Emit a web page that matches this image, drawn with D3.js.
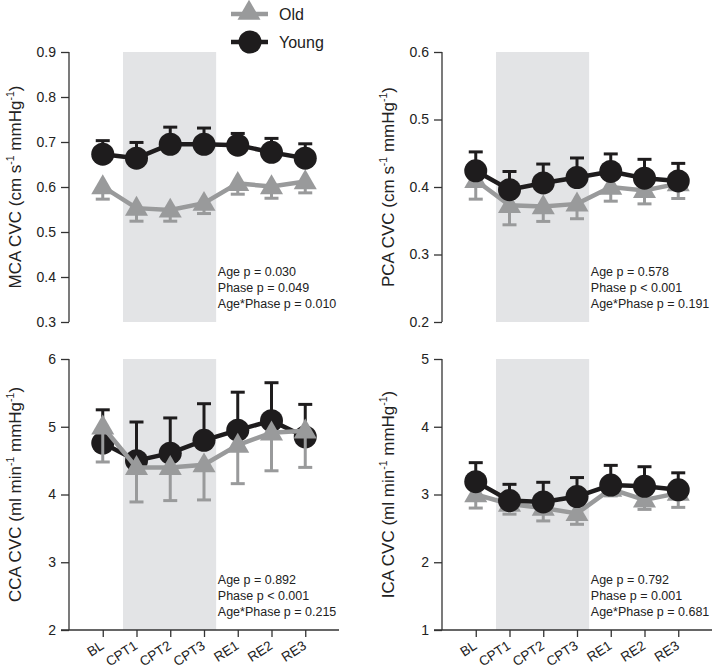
<!doctype html>
<html lang="en">
<head>
  <meta charset="UTF-8">
  <title>CVC</title>
  <script src="https://cdn.jsdelivr.net/npm/d3@7/dist/d3.min.js"></script>
  <style>
    body { margin: 0; background: #fff; }
    text { font-family: "Liberation Sans", Arial, sans-serif; fill: #222; }
  </style>
</head>
<body>
  <script>

    var phases = ["BL", "CPT1", "CPT2", "CPT3", "RE1", "RE2", "RE3"];

    // MCA
    var mcaYoung    = [0.673, 0.664, 0.695, 0.695, 0.693, 0.677, 0.664];
    var mcaYoungErr = [0.703, 0.699, 0.733, 0.731, 0.719, 0.708, 0.696];
    var mcaOld      = [0.601, 0.553, 0.549, 0.564, 0.608, 0.601, 0.612];
    var mcaOldErr   = [0.573, 0.524, 0.524, 0.541, 0.584, 0.575, 0.587];

    // PCA
    var pcaYoung    = [0.424, 0.396, 0.406, 0.414, 0.423, 0.413, 0.409];
    var pcaYoungErr = [0.452, 0.423, 0.434, 0.443, 0.449, 0.441, 0.435];
    var pcaOld      = [0.410, 0.373, 0.371, 0.375, 0.400, 0.395, 0.405];
    var pcaOldErr   = [0.382, 0.344, 0.349, 0.353, 0.379, 0.375, 0.383];

    // CCA
    var ccaYoung    = [4.76, 4.50, 4.61, 4.80, 4.95, 5.09, 4.85];
    var ccaYoungErr = [5.25, 5.07, 5.13, 5.34, 5.51, 5.65, 5.33];
    var ccaOld      = [5.00, 4.40, 4.40, 4.44, 4.73, 4.91, 4.94];
    var ccaOldErr   = [4.48, 3.89, 3.91, 3.92, 4.16, 4.35, 4.40];

    // ICA
    var icaYoung    = [3.19, 2.91, 2.89, 2.97, 3.14, 3.12, 3.07];
    var icaYoungErr = [3.47, 3.15, 3.18, 3.25, 3.43, 3.41, 3.32];
    var icaOld      = [3.00, 2.86, 2.80, 2.72, 3.08, 2.92, 3.02];
    var icaOldErr   = [2.80, 2.71, 2.61, 2.56, 2.98, 2.78, 2.81];

    var mcaStats = ["Age p = 0.030", "Phase p = 0.049", "Age*Phase p = 0.010"];
    var pcaStats = ["Age p = 0.578", "Phase p < 0.001", "Age*Phase p = 0.191"];
    var ccaStats = ["Age p = 0.892", "Phase p < 0.001", "Age*Phase p = 0.215"];
    var icaStats = ["Age p = 0.792", "Phase p = 0.001", "Age*Phase p = 0.681"];

    var black = "#1e1c1d"
      , grey = "#999a9b"
      , shade = "#e3e4e6"
      ;

    var svg = d3.select("body").append("svg")
      .attr("width", 714)
      .attr("height", 669);

    var panels = [
      { name: "MCA", unit: "cm s", x0: 69, top: 52, bottom: 322, domain: [0.3, 0.9], step: 0.1, fmt: ".1f",
        young: mcaYoung, youngErr: mcaYoungErr, old: mcaOld, oldErr: mcaOldErr, stats: mcaStats, xaxis: false, oldOnTop: false },
      { name: "PCA", unit: "cm s", x0: 442, top: 52, bottom: 322, domain: [0.2, 0.6], step: 0.1, fmt: ".1f",
        young: pcaYoung, youngErr: pcaYoungErr, old: pcaOld, oldErr: pcaOldErr, stats: pcaStats, xaxis: false, oldOnTop: false },
      { name: "CCA", unit: "ml min", x0: 69, top: 359, bottom: 630, domain: [2, 6], step: 1, fmt: "d",
        young: ccaYoung, youngErr: ccaYoungErr, old: ccaOld, oldErr: ccaOldErr, stats: ccaStats, xaxis: true, oldOnTop: true },
      { name: "ICA", unit: "ml min", x0: 442, top: 359, bottom: 630, domain: [1, 5], step: 1, fmt: "d",
        young: icaYoung, youngErr: icaYoungErr, old: icaOld, oldErr: icaOldErr, stats: icaStats, xaxis: true, oldOnTop: false }
    ];

    var triangle = d3.symbol().type(d3.symbolTriangle).size(230);

    function drawSeries (g, x, y, vals, errs, color, kind) {
      var s = g.append("g");

      s.selectAll(".err")
        .data(vals)
        .enter()
        .append("line")
        .attr("x1", function(d, i) { return x(phases[i]); })
        .attr("x2", function(d, i) { return x(phases[i]); })
        .attr("y1", function(d) { return y(d); })
        .attr("y2", function(d, i) { return y(errs[i]); })
        .attr("stroke", color)
        .attr("stroke-width", 3);

      s.selectAll(".cap")
        .data(errs)
        .enter()
        .append("line")
        .attr("x1", function(d, i) { return x(phases[i]) - 7; })
        .attr("x2", function(d, i) { return x(phases[i]) + 7; })
        .attr("y1", function(d) { return y(d); })
        .attr("y2", function(d) { return y(d); })
        .attr("stroke", color)
        .attr("stroke-width", 3);

      var line = d3.line()
        .x(function(d, i) { return x(phases[i]); })
        .y(function(d) { return y(d); });

      s.append("path")
        .datum(vals)
        .attr("d", line)
        .attr("fill", "none")
        .attr("stroke", color)
        .attr("stroke-width", 4.5);

      if (kind === "circle") {
        s.selectAll("circle")
          .data(vals)
          .enter()
          .append("circle")
          .attr("cx", function(d, i) { return x(phases[i]); })
          .attr("cy", function(d) { return y(d); })
          .attr("r", 11.5)
          .attr("fill", color);
      } else {
        s.selectAll(".tri")
          .data(vals)
          .enter()
          .append("path")
          .attr("d", triangle)
          .attr("transform", function(d, i) {
            return "translate(" + x(phases[i]) + "," + (y(d) + 1) + ")";
          })
          .attr("fill", color);
      }
    }

    panels.forEach(function(p) {
      var g = svg.append("g");

      var x = d3.scalePoint()
        .domain(phases)
        .range([p.x0, p.x0 + 270])
        .padding(1);

      var y = d3.scaleLinear()
        .domain(p.domain)
        .range([p.bottom, p.top]);

      var step = x.step();

      // shaded CPT region
      g.append("rect")
        .attr("x", x("CPT1") - step * 0.4)
        .attr("y", p.top)
        .attr("width", x("CPT3") - x("CPT1") + step * 0.76)
        .attr("height", p.bottom - p.top)
        .attr("fill", shade);

      var ticks = d3.range(p.domain[0], p.domain[1] + p.step / 2, p.step);

      var yAxis = g.append("g")
        .attr("transform", "translate(" + p.x0 + ",0)")
        .call(d3.axisLeft(y).tickValues(ticks).tickFormat(d3.format(p.fmt)).tickSize(8).tickPadding(5));

      yAxis.select(".domain").attr("stroke", "#333").attr("stroke-width", 1.3).attr("d", "M0," + p.top + "V" + p.bottom);
      yAxis.selectAll(".tick line").attr("stroke", "#333").attr("stroke-width", 1.3);
      yAxis.selectAll(".tick text")
        .style("font-family", "'Liberation Sans', Arial, sans-serif")
        .style("font-size", "14px")
        .attr("fill", "#222");

      if (p.xaxis) {
        var xAxis = g.append("g")
          .attr("transform", "translate(0," + p.bottom + ")")
          .call(d3.axisBottom(x).tickSize(7));

        xAxis.select(".domain").attr("stroke", "#333").attr("stroke-width", 1.3).attr("d", "M" + (p.x0 - 8) + ",0H" + (p.x0 + 270));
        xAxis.selectAll(".tick line").attr("stroke", "#333").attr("stroke-width", 1.3);
        xAxis.selectAll(".tick text")
          .style("font-family", "'Liberation Sans', Arial, sans-serif")
          .style("font-size", "13.5px")
          .attr("fill", "#222")
          .attr("text-anchor", "end")
          .attr("x", 0)
          .attr("y", 0)
          .attr("dy", "0.35em")
          .attr("transform", "translate(-1,14) rotate(-33)");
      }

      // y label with superscripts
      var cy = (p.top + p.bottom) / 2;
      var lab = g.append("text")
        .attr("transform", "translate(" + (p.x0 - 48) + "," + cy + ") rotate(-90)")
        .attr("text-anchor", "middle")
        .style("font-size", "17px");
      lab.append("tspan").text(p.name + " CVC (" + p.unit);
      lab.append("tspan").text("-1").style("font-size", "10.5px").attr("dy", "-7");
      lab.append("tspan").text(" mmHg").attr("dy", "7");
      lab.append("tspan").text("-1").style("font-size", "10.5px").attr("dy", "-7");
      lab.append("tspan").text(")").attr("dy", "7");

      var series = [
        { vals: p.old, errs: p.oldErr, color: grey, kind: "triangle" },
        { vals: p.young, errs: p.youngErr, color: black, kind: "circle" }
      ];
      if (p.oldOnTop) series.reverse();
      series.forEach(function(s) {
        drawSeries(g, x, y, s.vals, s.errs, s.color, s.kind);
      });

      // stats text
      g.selectAll(".stat")
        .data(p.stats)
        .enter()
        .append("text")
        .attr("x", x("CPT3") + step * 0.38 + 1)
        .attr("y", function(d, i) { return p.bottom - 46 + i * 16; })
        .style("font-size", "12.5px")
        .text(function(d) { return d; });
    });

    // legend
    var legend = svg.append("g");
    var legendItems = [
      { label: "Old", color: grey, kind: "triangle", y: 14 },
      { label: "Young", color: black, kind: "circle", y: 42 }
    ];
    legendItems.forEach(function(d) {
      legend.append("line")
        .attr("x1", 231).attr("x2", 268)
        .attr("y1", d.y).attr("y2", d.y)
        .attr("stroke", d.color)
        .attr("stroke-width", 4.5);
      if (d.kind === "circle") {
        legend.append("circle").attr("cx", 250).attr("cy", d.y).attr("r", 11.5).attr("fill", d.color);
      } else {
        legend.append("path").attr("d", triangle).attr("transform", "translate(249," + (d.y - 1) + ")").attr("fill", d.color);
      }
      legend.append("text")
        .attr("x", 279)
        .attr("y", d.y + 6)
        .style("font-size", "16px")
        .text(d.label);
    });

  </script>
</body>
</html>
